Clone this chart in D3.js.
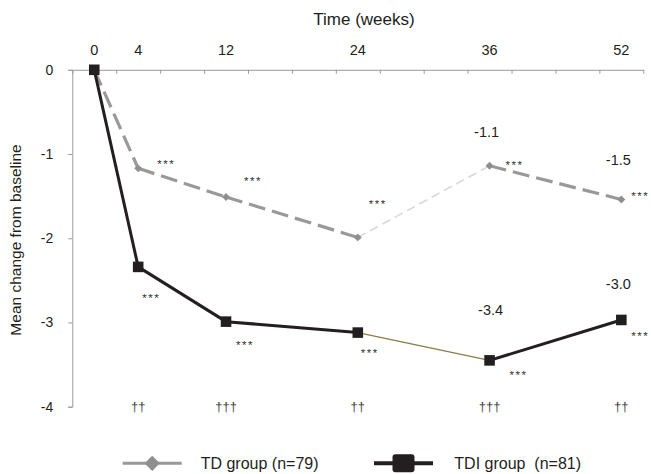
<!DOCTYPE html>
<html>
<head>
<meta charset="utf-8">
<script src="https://cdn.jsdelivr.net/npm/d3@7"></script>
<style>
  body { margin: 0; background: #fff; }
  svg { display: block; font-family: "Liberation Sans", Arial, sans-serif; }
  text { white-space: pre; }
</style>
</head>
<body>
<svg id="chart" width="651" height="474"></svg>
<script>
// axis slots (Excel category axis, one slot per 4 weeks; the last one is labelled 52)
const slots = ["0", "4", "8", "12", "16", "20", "24", "28", "32", "36", "40", "44", "52"];
const weeks = ["0", "4", "12", "24", "36", "52"];
const yTicks = [0, -1, -2, -3, -4];

// mean change from baseline
const tdValues = [0, -1.17, -1.51, -1.99, -1.14, -1.54];
const tdiValues = [0, -2.34, -2.99, -3.12, -3.45, -2.97];

// annotations
const tdValueLabels = ["", "", "", "", "-1.1", "-1.5"];
const tdiValueLabels = ["", "", "", "", "-3.4", "-3.0"];
const tdStars = ["", "***", "***", "***", "***", "***"];
const tdiStars = ["", "***", "***", "***", "***", "***"];
const daggers = ["", "††", "†††", "††", "†††", "††"];
const seriesNames = ["TD group (n=79)", "TDI group  (n=81)"];

// label placement relative to each point (layout only)
const tdStarOffset = [[0, 0], [28, -7], [27, -19], [20, -36], [25, -4], [19, -7]];
const tdiStarOffset = [[0, 0], [13, 28], [19, 20], [12, 17], [29, 12], [19, 13]];
const tdLabelOffset = [[0, 0], [0, 0], [0, 0], [0, 0], [-3, -29], [-3, -35]];
const tdiLabelOffset = [[0, 0], [0, 0], [0, 0], [0, 0], [1, -45], [-3, -31]];

const ink = "#231f20";
const svg = d3.select("#chart");

const x = d3.scaleBand().domain(slots).range([72.3, 643.3]);
const y = d3.scaleLinear().domain([-4, 0]).range([406.7, 69.8]);
const cx = w => x(w) + x.bandwidth() / 2;

// boundaries between slots for the tick marks
const xEdges = d3.scaleLinear().domain([0, slots.length]).range(x.range());

// top (x) axis
const xAxis = svg.append("g")
  .attr("transform", `translate(0,${y(0)})`)
  .call(d3.axisBottom(xEdges).tickValues(d3.range(slots.length + 1)).tickSize(4).tickSizeOuter(0).tickFormat(""));
xAxis.select(".domain").attr("stroke", "#9a9a9a");
xAxis.selectAll(".tick line").attr("stroke", "#9a9a9a");

svg.append("g")
  .selectAll("text")
  .data(weeks)
  .join("text")
  .attr("x", d => cx(d))
  .attr("y", 55)
  .attr("text-anchor", "middle")
  .attr("font-size", 14.5)
  .attr("fill", ink)
  .text(d => d);

svg.append("text")
  .attr("x", 364)
  .attr("y", 25)
  .attr("text-anchor", "middle")
  .attr("font-size", 17)
  .attr("fill", ink)
  .text("Time (weeks)");

// left (y) axis
const yAxis = svg.append("g")
  .attr("transform", `translate(${x.range()[0]},0)`)
  .call(d3.axisLeft(y).tickValues(yTicks).tickSize(4).tickSizeOuter(4).tickPadding(15).tickFormat(d => String(d)));
yAxis.select(".domain").attr("stroke", "#9a9a9a");
yAxis.selectAll(".tick line").attr("stroke", "#9a9a9a");
yAxis.selectAll(".tick text").attr("font-size", 14).attr("fill", ink).attr("font-family", null);

svg.append("text")
  .attr("transform", "translate(21,240) rotate(-90)")
  .attr("text-anchor", "middle")
  .attr("font-size", 15.5)
  .attr("fill", ink)
  .text("Mean change from baseline");

// series
const series = [
  {
    values: tdValues, labels: tdValueLabels, stars: tdStars,
    starOffset: tdStarOffset, labelOffset: tdLabelOffset,
    line: { stroke: "#999999", width: 3.2, dash: "17,7" },
    odd: { stroke: "#d9d9d9", width: 1.6, dash: "9,5" },
    marker: "diamond", fill: "#8f8f8f"
  },
  {
    values: tdiValues, labels: tdiValueLabels, stars: tdiStars,
    starOffset: tdiStarOffset, labelOffset: tdiLabelOffset,
    line: { stroke: ink, width: 3, dash: null },
    odd: { stroke: "#8a7c48", width: 1.3, dash: null },
    marker: "square", fill: ink
  }
];

series.forEach(s => {
  const pts = weeks.map((w, i) => [cx(w), y(s.values[i])]);
  const segs = d3.pairs(pts).map((p, i) => ({ p, style: weeks[i] === "24" ? s.odd : s.line }));

  svg.append("g")
    .selectAll("path")
    .data(segs)
    .join("path")
    .attr("d", d => d3.line()(d.p))
    .attr("fill", "none")
    .attr("stroke", d => d.style.stroke)
    .attr("stroke-width", d => d.style.width)
    .attr("stroke-dasharray", d => d.style.dash);
});

series.forEach(s => {
  const pts = weeks.map((w, i) => [cx(w), y(s.values[i])]);
  const sym = s.marker === "diamond"
    ? d3.symbol(d3.symbolDiamond2, 40)
    : d3.symbol(d3.symbolSquare, 112);

  svg.append("g")
    .selectAll("path")
    .data(pts)
    .join("path")
    .attr("transform", d => `translate(${d[0]},${d[1]})`)
    .attr("d", sym)
    .attr("fill", s.fill);

  svg.append("g")
    .selectAll("text")
    .data(pts)
    .join("text")
    .attr("x", (d, i) => d[0] + s.starOffset[i][0])
    .attr("y", (d, i) => d[1] + s.starOffset[i][1] + 7)
    .attr("text-anchor", "middle")
    .attr("font-size", 11.5)
    .attr("letter-spacing", 1.5)
    .attr("fill", "#333")
    .text((d, i) => s.stars[i]);

  svg.append("g")
    .selectAll("text")
    .data(pts)
    .join("text")
    .attr("x", (d, i) => d[0] + s.labelOffset[i][0])
    .attr("y", (d, i) => d[1] + s.labelOffset[i][1])
    .attr("text-anchor", "middle")
    .attr("font-size", 14.5)
    .attr("fill", ink)
    .text((d, i) => s.labels[i]);
});

// significance between groups
svg.append("g")
  .selectAll("text")
  .data(weeks)
  .join("text")
  .attr("x", d => cx(d))
  .attr("y", 411)
  .attr("text-anchor", "middle")
  .attr("font-size", 13)
  .attr("fill", "#444")
  .text((d, i) => daggers[i]);

// legend
const legend = svg.append("g");
const items = [
  { x0: 122.7, x1: 181.7, tx: 200.7, stroke: "#999999", w: 3, marker: d3.symbolDiamond2, size: 150, fill: "#8f8f8f" },
  { x0: 374, x1: 433, tx: 454.3, stroke: ink, w: 4, marker: null, fill: ink }
];
items.forEach((it, i) => {
  const ly = 463.3;
  const mx = (it.x0 + it.x1) / 2;
  legend.append("line")
    .attr("x1", it.x0).attr("x2", it.x1)
    .attr("y1", ly).attr("y2", ly)
    .attr("stroke", it.stroke).attr("stroke-width", it.w);
  if (it.marker) {
    legend.append("path")
      .attr("transform", `translate(${mx},${ly})`)
      .attr("d", d3.symbol(it.marker, it.size))
      .attr("fill", it.fill);
  } else {
    legend.append("rect")
      .attr("x", mx - 11).attr("y", ly - 9)
      .attr("width", 22).attr("height", 18)
      .attr("rx", 3)
      .attr("fill", it.fill);
  }
  legend.append("text")
    .attr("x", it.tx)
    .attr("y", 468.5)
    .attr("font-size", 16)
    .attr("fill", ink)
    .text(seriesNames[i]);
});
</script>
</body>
</html>
